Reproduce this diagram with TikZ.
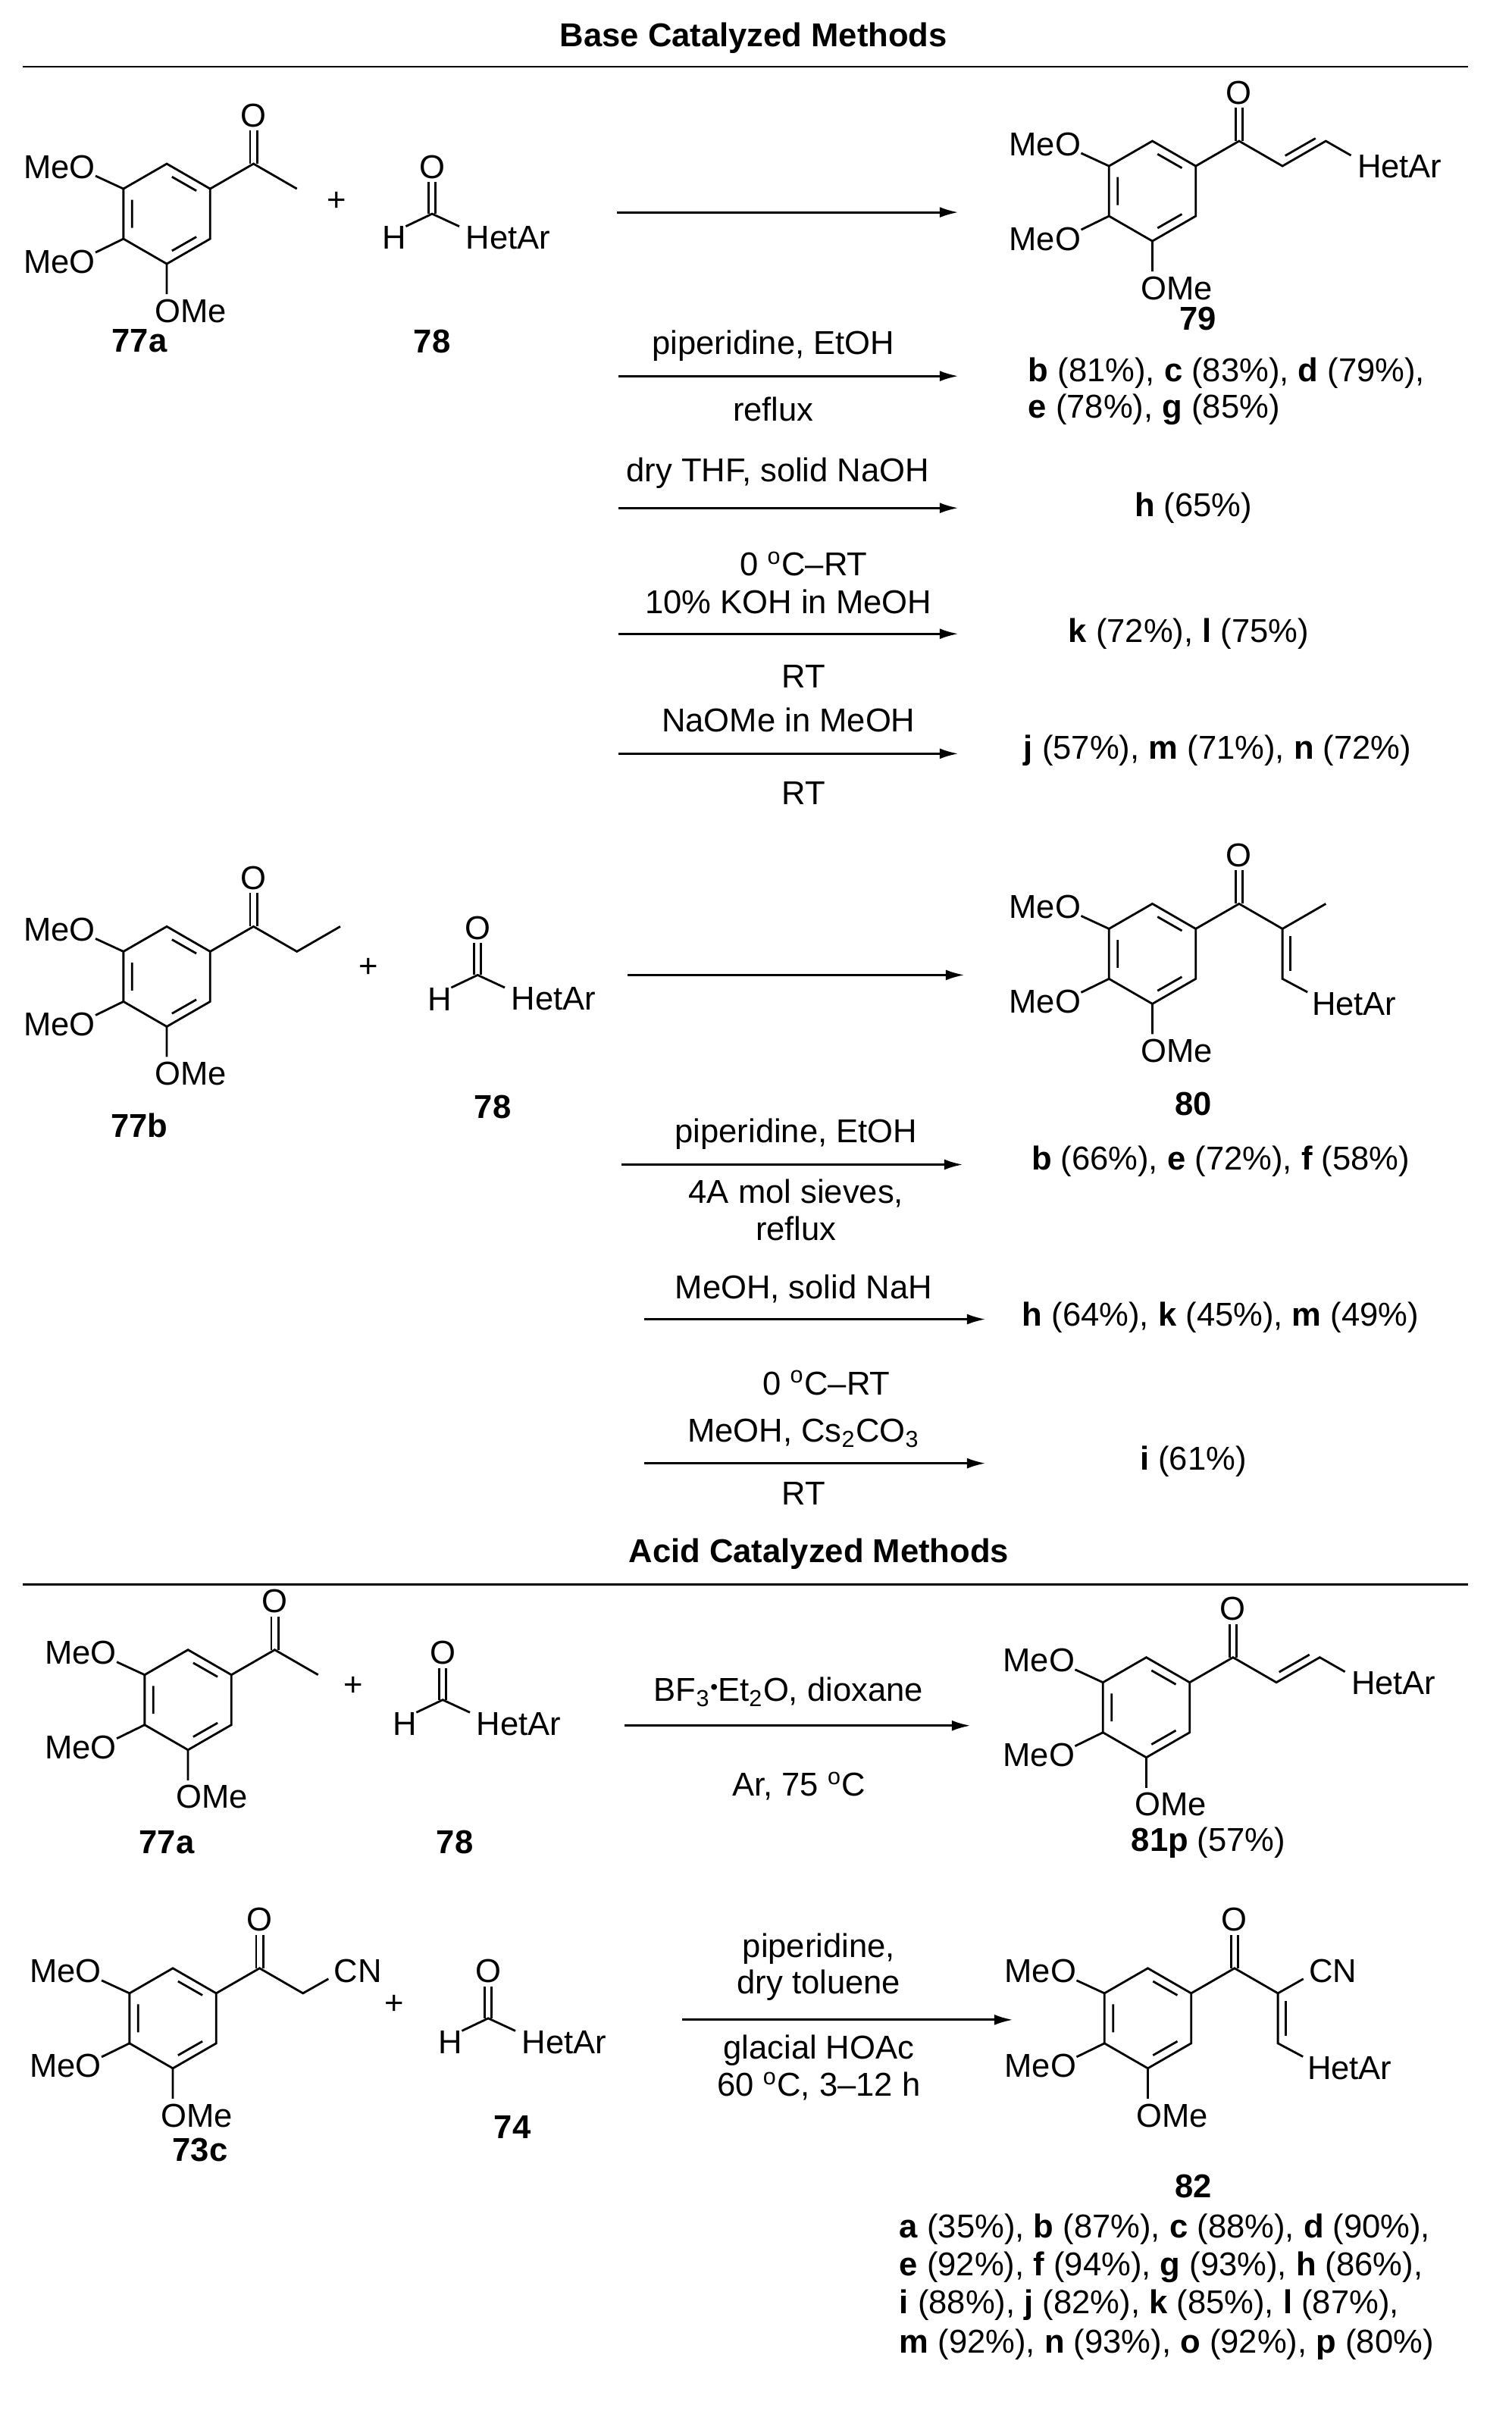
\documentclass[tikz,border=0pt]{standalone}
\usepackage{fontspec}
\usetikzlibrary{arrows.meta}
\setmainfont{Liberation Sans}
\newcommand\chemfont{\fontsize{12.4}{14.5}\selectfont}
%% trimethoxyphenyl ring: #1,#2 centre, #3 name
\newcommand\trimeo[3]{%
  \begin{scope}[shift={(#1,#2)}]
    \coordinate (#3-top) at (0,-33);   \coordinate (#3-ur) at (28.6,-16.5);
    \coordinate (#3-lr) at (28.6,16.5); \coordinate (#3-bot) at (0,33);
    \coordinate (#3-ll) at (-28.6,16.5); \coordinate (#3-ul) at (-28.6,-16.5);
    \draw [bond] (#3-top) -- (#3-ur) -- (#3-lr) -- (#3-bot) -- (#3-ll) -- (#3-ul) -- cycle;
    \draw [bond] (3.4,-24.4) -- (19.5,-15.2) (-22.9,-9.2) -- (-22.9,9.2) (19.5,15.2) -- (3.4,24.4);
    %% methoxy groups
    \node (#3-m3) [anchor=east] at (-46,-31) {MeO};
    \node (#3-m4) [anchor=east] at (-46,31.5) {MeO};
    \node (#3-m5) [anchor=north west,inner sep=0pt] at (-8,56) {OMe};
    \draw [bond] (#3-ul) -- (-47,-25) (#3-ll) -- (-47,25.5) (#3-bot) -- (0,53);
  \end{scope}}
%% aldehyde: #1,#2 carbonyl carbon, #3 name
\newcommand\aldehyde[3]{%
  \begin{scope}[shift={(#1,#2)}]
    \node (#3-o) at (0,-31) {O};
    \node (#3-h) at (-24.8,15.8) {H};
    \node (#3-r) [anchor=west] at (21,15.8) {HetAr};
    \draw [bond] (-2.3,0) -- (-2.3,-21) (2.3,0) -- (2.3,-21);
    \draw [bond] (-17.4,8.3) -- (0,0) -- (17.9,8.3);
  \end{scope}}
\begin{document}
\begin{tikzpicture}
[x=0.02cm,y=-0.02cm,
  bond/.style={line width=0.8pt,line join=miter},
  rxn/.style={line width=0.8pt,-{Latex[length=7pt,width=4pt]}},
  cond/.style={inner sep=1pt},
  cmpd/.style={font=\chemfont\bfseries},
  every node/.style={font=\chemfont,inner sep=0.5pt}]
\useasboundingbox (0,0) rectangle (997,1590);
%% headers
\node (hbase) [font=\chemfont\bfseries] at (497,25) {Base Catalyzed Methods};
\node (hacid) [font=\chemfont\bfseries] at (540,1025) {Acid Catalyzed Methods};
\draw [line width=0.8pt] (15,44) -- (968,44) (15,1045) -- (968,1045);

%% ---- 77a + 78 -> 79
\trimeo{110}{141}{ra}
\begin{scope}[shift={(110,141)}]
  \node (ra-o) at (57.2,-65) {O};
  \draw [bond] (ra-ur) -- (57.2,-33) -- (85.8,-16.5);
  \draw [bond] (54.9,-33) -- (54.9,-55) (59.5,-33) -- (59.5,-55);
\end{scope}
\node (pl1) at (222,133) {+};
\aldehyde{285}{141}{ald1}
\node (c77a) [cmpd] at (92,225) {77a};
\node (c78) [cmpd] at (285,225) {78};
\trimeo{760}{126}{rb}
\begin{scope}[shift={(760,126)}]
  \node (rb-o) at (57.2,-65) {O};
  \node (rb-r) [anchor=west] at (134,-16) {HetAr};
  \draw [bond] (rb-ur) -- (57.2,-33) -- (85.8,-16.5) -- (114.4,-33) -- (131,-23.5);
  \draw [bond] (54.9,-33) -- (54.9,-55) (59.5,-33) -- (59.5,-55);
  \draw [bond] (87.6,-23.3) -- (107.6,-34.8);
\end{scope}
\node (c79) [cmpd] at (790,210) {79};
\coordinate (a0s) at (407,140); \coordinate (a0e) at (632,140);
\draw [rxn] (a0s) -- (a0e);
%% conditions for 79
\foreach \n/\y in {1/248,2/335,3/418,4/497}{
  \coordinate (a\n s) at (408,\y); \coordinate (a\n e) at (632,\y);
  \draw [rxn] (a\n s) -- (a\n e);
}
\node (t1a) [cond] at (510,228) {piperidine, EtOH};
\node (t1b) [cond] at (510,270) {reflux};
\node (y1a) [anchor=west] at (677,246) {\textbf{b} (81\%), \textbf{c} (83\%), \textbf{d} (79\%),};
\node (y1b) [anchor=west] at (677,270) {\textbf{e} (78\%), \textbf{g} (85\%)};
\node (t2a) [cond] at (513,312) {dry THF, solid NaOH};
\node (t2b) [cond] at (530,372) {0 \textsuperscript{o}C--RT};
\node (y2) at (787,335) {\textbf{h} (65\%)};
\node (t3a) [cond] at (520,397) {10\% KOH in MeOH};
\node (t3b) [cond] at (530,446) {RT};
\node (y3) at (784,418) {\textbf{k} (72\%), \textbf{l} (75\%)};
\node (t4a) [cond] at (520,475) {NaOMe in MeOH};
\node (t4b) [cond] at (530,523) {RT};
\node (y4) at (803,495) {\textbf{j} (57\%), \textbf{m} (71\%), \textbf{n} (72\%)};

%% ---- 77b + 78 -> 80
\trimeo{110}{644}{rc}
\begin{scope}[shift={(110,644)}]
  \node (rc-o) at (57.2,-65) {O};
  \draw [bond] (rc-ur) -- (57.2,-33) -- (85.8,-16.5) -- (114.4,-33);
  \draw [bond] (54.9,-33) -- (54.9,-55) (59.5,-33) -- (59.5,-55);
\end{scope}
\node (pl2) at (243,638) {+};
\aldehyde{315}{643}{ald2}
\node (c77b) [cmpd] at (92,742) {77b};
\node (c78b) [cmpd] at (325,730) {78};
\trimeo{760}{629}{rd}
\begin{scope}[shift={(760,629)}]
  \node (rd-o) at (57.2,-65) {O};
  \node (rd-r) [anchor=west] at (104,33) {HetAr};
  \draw [bond] (rd-ur) -- (57.2,-33) -- (85.8,-16.5) -- (114.4,-33);
  \draw [bond] (85.8,-16.5) -- (85.8,16.5) -- (102.3,25.3);
  \draw [bond] (54.9,-33) -- (54.9,-55) (59.5,-33) -- (59.5,-55);
  \draw [bond] (90.8,-11.5) -- (90.8,11.5);
\end{scope}
\node (c80) [cmpd] at (787,728) {80};
\coordinate (b0s) at (414,643); \coordinate (b0e) at (636,643);
\draw [rxn] (b0s) -- (b0e);
\coordinate (b1s) at (410,768); \coordinate (b1e) at (635,768);
\coordinate (b2s) at (425,870); \coordinate (b2e) at (650,870);
\coordinate (b3s) at (425,965); \coordinate (b3e) at (650,965);
\draw [rxn] (b1s) -- (b1e);
\draw [rxn] (b2s) -- (b2e);
\draw [rxn] (b3s) -- (b3e);
\node (u1a) [cond] at (525,748) {piperidine, EtOH};
\node (u1b) [cond] at (525,787) {4A mol sieves,};
\node (u1c) [cond] at (525,810) {reflux};
\node (z1) at (805,766) {\textbf{b} (66\%), \textbf{e} (72\%), \textbf{f} (58\%)};
\node (u2a) [cond] at (530,850) {MeOH, solid NaH};
\node (u2b) [cond] at (545,912) {0 \textsuperscript{o}C--RT};
\node (z2) at (805,869) {\textbf{h} (64\%), \textbf{k} (45\%), \textbf{m} (49\%)};
\node (u3a) [cond] at (530,945) {MeOH, Cs\textsubscript{2}CO\textsubscript{3}};
\node (u3b) [cond] at (530,985) {RT};
\node (z3) at (787,964) {\textbf{i} (61\%)};

%% ---- acid: 77a + 78 -> 81p
\trimeo{124}{1121}{re}
\begin{scope}[shift={(124,1121)}]
  \node (re-o) at (57.2,-65) {O};
  \draw [bond] (re-ur) -- (57.2,-33) -- (85.8,-16.5);
  \draw [bond] (54.9,-33) -- (54.9,-55) (59.5,-33) -- (59.5,-55);
\end{scope}
\node (pl3) at (233,1112) {+};
\aldehyde{292}{1121}{ald3}
\node (c77c) [cmpd] at (110,1215) {77a};
\node (c78c) [cmpd] at (300,1215) {78};
\trimeo{756}{1126}{rf}
\begin{scope}[shift={(756,1126)}]
  \node (rf-o) at (57.2,-65) {O};
  \node (rf-r) [anchor=west] at (134,-16) {HetAr};
  \draw [bond] (rf-ur) -- (57.2,-33) -- (85.8,-16.5) -- (114.4,-33) -- (131,-23.5);
  \draw [bond] (54.9,-33) -- (54.9,-55) (59.5,-33) -- (59.5,-55);
  \draw [bond] (87.6,-23.3) -- (107.6,-34.8);
\end{scope}
\node (c81) at (797,1215) {\textbf{81p} (57\%)};
\coordinate (c0s) at (412,1138); \coordinate (c0e) at (640,1138);
\draw [rxn] (c0s) -- (c0e);
\node (v1a) [cond] at (520,1116) {BF\textsubscript{3}\raisebox{0.4ex}{\footnotesize\textbullet}Et\textsubscript{2}O, dioxane};
\node (v1b) [cond] at (527,1178) {Ar, 75 \textsuperscript{o}C};

%% ---- 73c + 74 -> 82
\trimeo{114}{1331}{rg}
\begin{scope}[shift={(114,1331)}]
  \node (rg-o) at (57.2,-65) {O};
  \node (rg-cn) [anchor=west] at (105,-31) {CN};
  \draw [bond] (rg-ur) -- (57.2,-33) -- (85.8,-16.5) -- (102.6,-26);
  \draw [bond] (54.9,-33) -- (54.9,-55) (59.5,-33) -- (59.5,-55);
\end{scope}
\node (pl4) at (260,1322) {+};
\aldehyde{322}{1331}{ald4}
\node (c73c) [cmpd] at (132,1418) {73c};
\node (c74) [cmpd] at (338,1403) {74};
\trimeo{757}{1331}{rh}
\begin{scope}[shift={(757,1331)}]
  \node (rh-o) at (57.2,-65) {O};
  \node (rh-cn) [anchor=west] at (105,-31) {CN};
  \node (rh-r) [anchor=west] at (104,33) {HetAr};
  \draw [bond] (rh-ur) -- (57.2,-33) -- (85.8,-16.5) -- (102.6,-26);
  \draw [bond] (85.8,-16.5) -- (85.8,16.5) -- (102.3,25.3);
  \draw [bond] (54.9,-33) -- (54.9,-55) (59.5,-33) -- (59.5,-55);
  \draw [bond] (90.8,-11.5) -- (90.8,11.5);
\end{scope}
\node (c82) [cmpd] at (787,1442) {82};
\coordinate (d0s) at (450,1332); \coordinate (d0e) at (668,1332);
\draw [rxn] (d0s) -- (d0e);
\node (w1a) [cond] at (540,1285) {piperidine,};
\node (w1b) [cond] at (540,1309) {dry toluene};
\node (w1c) [cond] at (540,1352) {glacial HOAc};
\node (w1d) [cond] at (540,1376) {60 \textsuperscript{o}C, 3--12 h};
\node (y5a) [anchor=west] at (592,1470) {\textbf{a} (35\%), \textbf{b} (87\%), \textbf{c} (88\%), \textbf{d} (90\%),};
\node (y5b) [anchor=west] at (592,1495) {\textbf{e} (92\%), \textbf{f} (94\%), \textbf{g} (93\%), \textbf{h} (86\%),};
\node (y5c) [anchor=west] at (592,1520) {\textbf{i} (88\%), \textbf{j} (82\%), \textbf{k} (85\%), \textbf{l} (87\%),};
\node (y5d) [anchor=west] at (592,1546) {\textbf{m} (92\%), \textbf{n} (93\%), \textbf{o} (92\%), \textbf{p} (80\%)};
\end{tikzpicture}
\end{document}
